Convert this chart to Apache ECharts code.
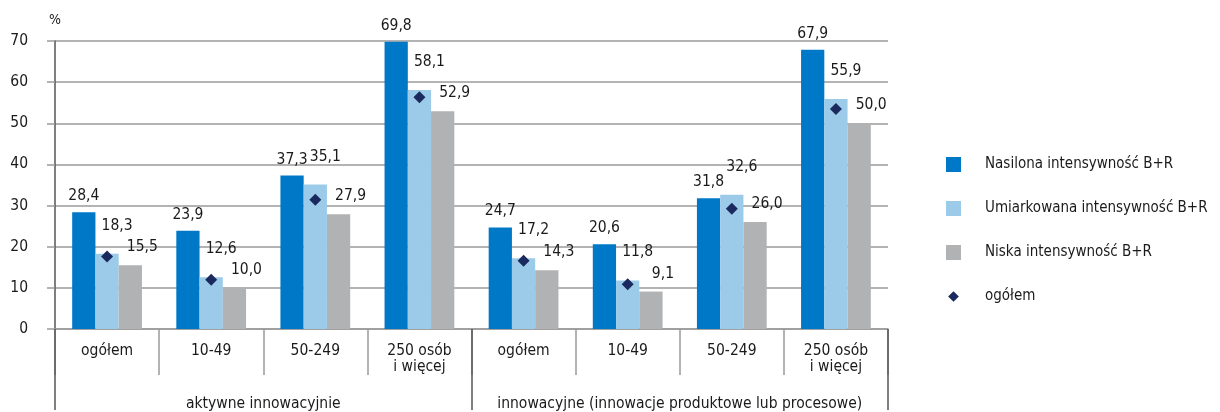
<!DOCTYPE html>
<html>
<head>
<meta charset="utf-8">
<script src="https://cdn.jsdelivr.net/npm/echarts@6/dist/echarts.min.js"></script>
<style>
  html, body { margin: 0; padding: 0; background: #fff; }
  #main { width: 1220px; height: 412px; }
</style>
</head>
<body>
<div id="main"></div>
<script>
// kategorie
var categories = ['ogółem', '10-49', '50-249', '250 osób\ni więcej',
                  'ogółem', '10-49', '50-249', '250 osób\ni więcej'];
var groups = ['aktywne innowacyjnie', 'innowacyjne (innowacje produktowe lub procesowe)'];
var yTicks = [0, 10, 20, 30, 40, 50, 60, 70];

// wartości
var nasilona = [28.4, 23.9, 37.3, 69.8, 24.7, 20.6, 31.8, 67.9];
var umiarkowana = [18.3, 12.6, 35.1, 58.1, 17.2, 11.8, 32.6, 55.9];
var niska = [15.5, 10.0, 27.9, 52.9, 14.3, 9.1, 26.0, 50.0];
var ogolem = [17.6, 12.0, 31.4, 56.3, 16.6, 10.9, 29.2, 53.5];

var FONT = '"DejaVu Sans Condensed", "Liberation Sans Narrow", "Roboto", sans-serif';
var TXT = '#1a1a1a';
var FS = 15.5;

var chartDom = document.getElementById('main');
var myChart = echarts.init(chartDom);

function fmt(p) {
    return p.value.toFixed(1).replace('.', ',');
}

function barSeries(name, data, color, offset) {
    return {
        name: name,
        type: 'bar',
        data: data,
        barGap: '0%',
        barCategoryGap: '33%',
        itemStyle: { color: color },
        label: {
            show: true,
            position: 'top',
            distance: 4,
            offset: offset,
            formatter: fmt,
            color: TXT,
            fontSize: FS,
            fontFamily: FONT
        }
    };
}

var option = {
    animation: false,
    textStyle: { fontFamily: FONT },
    grid: { left: 55, right: 332, top: 41, bottom: 81 },
    legend: {
        orient: 'vertical',
        left: 941,
        top: 152,
        itemWidth: 15,
        itemHeight: 15,
        itemGap: 29,
        textStyle: { color: TXT, fontSize: 15, fontFamily: FONT, padding: [0, 0, 0, 19] },
        data: [
            { name: 'Nasilona intensywność B+R', icon: 'rect' },
            { name: 'Umiarkowana intensywność B+R', icon: 'rect' },
            { name: 'Niska intensywność B+R', icon: 'rect' },
            { name: 'ogółem', icon: 'path://M-2,-2M12,12M5,0L10,5L5,10L0,5Z' }
        ]
    },
    xAxis: [{
        type: 'category',
        data: categories,
        axisLine: { lineStyle: { color: '#9a9a9a', width: 1.5 } },
        axisTick: { show: true, interval: 0, length: 46, lineStyle: { color: '#9a9a9a', width: 1.5 } },
        axisLabel: { interval: 0, margin: 14, color: TXT, fontSize: FS, lineHeight: 16, fontFamily: FONT }
    }, {
        type: 'category',
        data: groups,
        position: 'bottom',
        gridIndex: 0,
        axisLine: { show: false },
        axisTick: { show: true, interval: 0, length: 81, lineStyle: { color: '#555', width: 1.5 } },
        axisLabel: { interval: 0, margin: 67, color: TXT, fontSize: FS, fontFamily: FONT }
    }],
    yAxis: {
        type: 'value',
        min: 0,
        max: 70,
        interval: 10,
        name: '%',
        nameLocation: 'end',
        nameGap: 14,
        nameTextStyle: { color: TXT, fontSize: 14, fontFamily: FONT, align: 'center' },
        axisLine: { show: true, lineStyle: { color: '#555', width: 1.5 } },
        axisTick: { show: true, length: 8, lineStyle: { color: '#9a9a9a', width: 1.5 } },
        axisLabel: {
            margin: 27, color: TXT, fontSize: FS, fontFamily: FONT,
            formatter: function (v) { return yTicks.indexOf(v) >= 0 ? String(v) : ''; }
        },
        splitLine: { show: true, lineStyle: { color: '#9a9a9a', width: 1.5 } }
    },
    series: [
        barSeries('Nasilona intensywność B+R', nasilona, '#0078c8', [0, -4]),
        barSeries('Umiarkowana intensywność B+R', umiarkowana, '#9ccbea', [10, -16]),
        barSeries('Niska intensywność B+R', niska, '#b1b2b4', [12, -6]),
        {
            name: 'ogółem',
            type: 'scatter',
            data: ogolem,
            symbol: 'diamond',
            symbolSize: 12,
            itemStyle: { color: '#1b2a5e', opacity: 1 },
            z: 5
        }
    ]
};

option && myChart.setOption(option);
</script>
</body>
</html>
